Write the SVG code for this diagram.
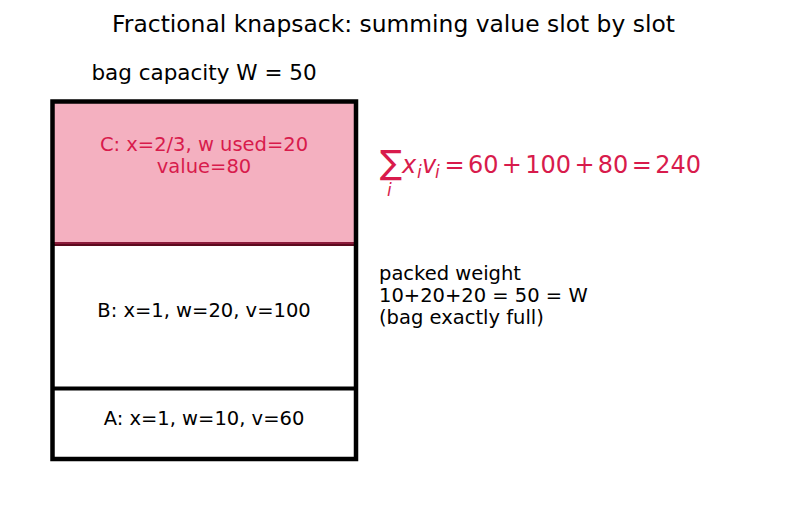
<svg xmlns="http://www.w3.org/2000/svg" width="787" height="510" viewBox="0 0 787 510">
<style>
text { font-family: "DejaVu Sans", "Liberation Sans", sans-serif; }
.lbl { font-size: 19.5px; fill: #000; }
.red { fill: #d81b4c; }
.it { font-style: italic; }
.outline { fill: none; stroke: #000; stroke-width: 4.5; }
</style>
<rect width="787" height="510" fill="#fff"/>
<text x="393.5" y="32" text-anchor="middle" font-size="23.4">Fractional knapsack: summing value slot by slot</text>
<text x="204" y="80" text-anchor="middle" font-size="21.5">bag capacity W = 50</text>
<g id="slotC">
<rect x="52.5" y="101.5" width="303.5" height="142.5" fill="#f4b0c0"/>
<line x1="52.5" y1="243" x2="356" y2="243" stroke="#8a1a3a" stroke-width="2"/>
<line x1="52.5" y1="245" x2="356" y2="245" stroke="#5c0a1e" stroke-width="2"/>
<text class="lbl red" x="204" y="151" text-anchor="middle">C: x=2/3, w used=20</text>
<text class="lbl red" x="204" y="173" text-anchor="middle">value=80</text>
</g>
<g id="slotB">
<text class="lbl" x="204" y="317" text-anchor="middle">B: x=1, w=20, v=100</text>
</g>
<g id="slotA">
<line x1="52.5" y1="388.5" x2="356" y2="388.5" stroke="#000" stroke-width="4"/>
<text class="lbl" x="204" y="425" text-anchor="middle">A: x=1, w=10, v=60</text>
</g>
<g id="bag">
<rect class="outline" x="52.5" y="101.5" width="303.5" height="357.5"/>
</g>
<g id="formula" class="red" font-size="24">
<text x="380" y="174" font-size="33">∑</text>
<text class="it" x="387" y="196" font-size="17">i</text>
<text class="it" x="402" y="173">x</text>
<text class="it" x="417" y="178" font-size="17">i</text>
<text class="it" x="422" y="173">v</text>
<text class="it" x="435" y="178" font-size="17">i</text>
<text x="444.5" y="173" word-spacing="-4.3">= 60 + 100 + 80 = 240</text>
</g>
<g id="note">
<text class="lbl" x="379" y="280">packed weight</text>
<text class="lbl" x="379" y="302">10+20+20 = 50 = W</text>
<text class="lbl" x="379" y="324">(bag exactly full)</text>
</g>
</svg>
